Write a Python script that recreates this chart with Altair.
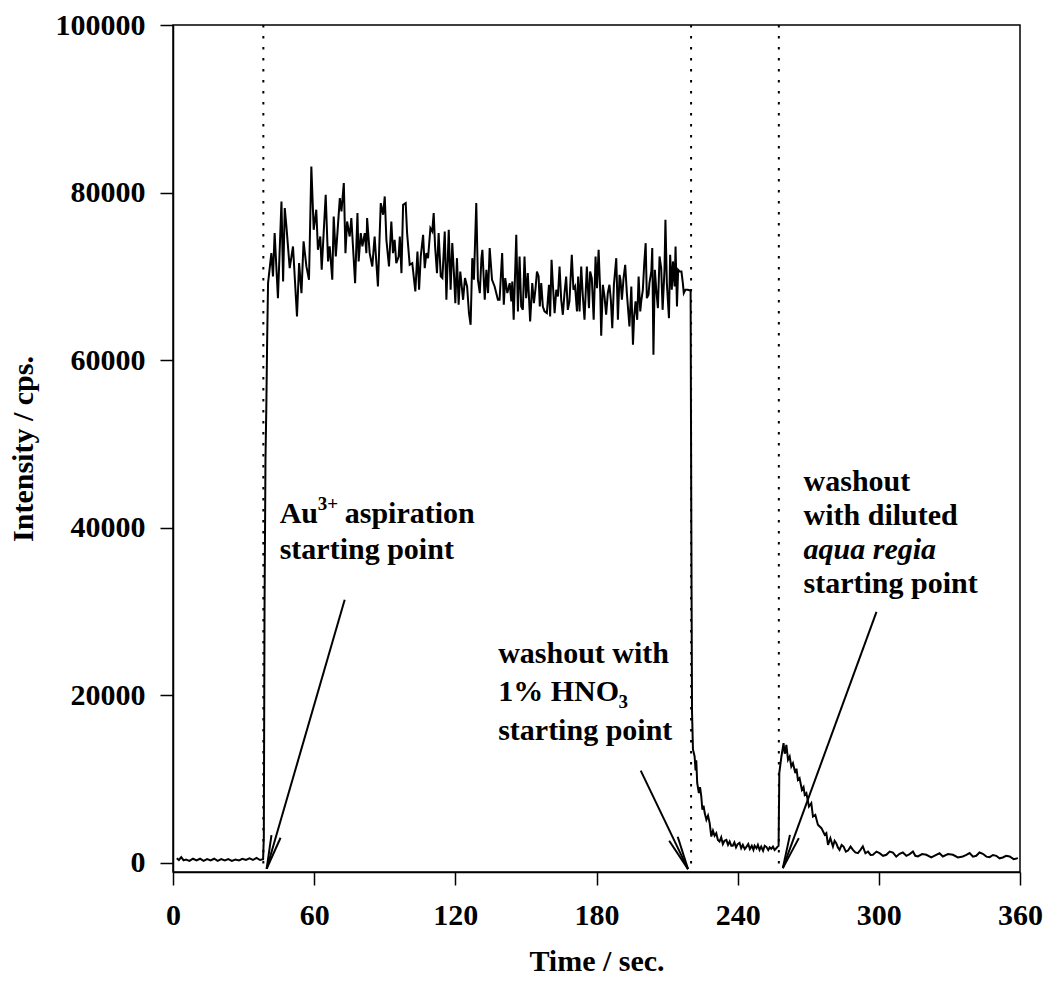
import math
import altair as alt
import pandas as pd

# ---- signal trace: time in seconds, intensity in counts per second ----
base_t = [1.6, 2.5, 3.5, 4.5, 5.5, 7.0, 8.5, 10.0, 11.5, 13.0, 14.5, 16.0, 17.5, 19.0,
          20.5, 22.0, 23.5, 25.0, 26.5, 28.0, 29.5, 31.0, 32.5, 34.0, 35.5, 37.0, 38.3]
base_v = [500, 300, 650, 250, 350, 200, 450, 250, 450, 200, 400, 250, 450, 200,
          400, 250, 400, 200, 350, 250, 450, 300, 500, 300, 550, 300, 400]

rise_t = [38.6, 38.9, 39.3, 39.7, 40.0]
rise_v = [3000, 30000, 48000, 55000, 62000]

plateau_t = [40.4, 41.8, 42.5, 43.2, 44.6, 46.1, 46.8, 47.5, 48.2, 49.6, 51.0, 52.7, 53.6, 54.6,
             55.5, 56.7, 57.8, 58.8, 59.8, 60.9, 61.6, 62.6, 63.2, 64.9, 65.9, 66.6, 67.7, 68.3,
             69.2, 70.9, 71.6, 72.6, 73.3, 74.0, 75.1, 75.8, 77.4, 78.4, 78.9, 79.8, 80.5, 81.5,
             82.2, 82.5, 83.6, 84.7, 85.7, 87.1, 88.3, 89.3, 90.0, 90.7, 91.8, 92.8, 93.5, 94.2,
             94.9, 95.9, 96.4, 97.1, 97.8, 98.9, 99.5, 100.6, 101.7, 103.0, 103.9, 104.6, 105.3,
             106.3, 107.0, 107.7, 108.4, 109.4, 110.2, 110.8, 111.4, 112.2, 112.9, 113.8, 114.5,
             115.5, 116.2, 117.2, 118.0, 118.7, 119.4, 120.0, 120.7, 121.4, 122.1, 123.3, 124.1,
             125.0, 125.8, 126.5, 127.2, 127.9, 128.9, 129.6, 130.4, 131.1, 131.5, 132.5, 133.2,
             133.9, 134.6, 135.6, 136.7, 138.1, 138.8,
             139.9, 140.6, 141.2, 142.1, 143.1, 143.8, 144.2, 144.8, 145.9, 146.6, 147.3, 148.0,
             148.7, 149.4, 150.1, 150.8, 151.8, 152.7, 153.4, 154.1, 154.7, 155.4, 155.9, 156.5,
             157.2, 157.9, 158.9, 159.8, 160.3, 160.9, 161.5, 162.2, 162.9, 163.6, 164.3, 165.0,
             165.7, 166.4, 167.1, 167.8, 168.5, 169.5, 170.2, 170.9, 171.7, 172.2, 172.8, 173.5,
             174.2, 174.9, 175.9, 176.8, 177.3, 178.0, 178.8, 179.6, 180.2, 180.9, 181.6, 182.0,
             182.7, 183.4, 184.1, 184.8, 185.5, 186.1, 186.7, 187.4, 188.4, 189.1, 189.8, 190.2,
             190.8, 191.5, 192.2, 192.9, 194.0, 194.8, 195.5, 196.0, 196.6, 197.3, 197.9, 198.6,
             199.0, 199.7, 200.3, 200.9, 201.4, 202.1, 202.5, 203.3, 203.7, 204.2, 204.8, 205.4,
             206.1, 206.8, 207.5, 208.1, 208.9, 209.3, 209.9, 210.8, 211.3, 212.0, 212.5, 213.2,
             213.6, 214.2, 214.7, 215.3, 216.1, 216.7, 217.1, 217.8, 218.8, 219.8, 220.0]
plateau_v = [69180, 72760, 69980, 75150, 67390, 78930, 69380, 78140, 75950, 70970, 73560, 65200,
             71570, 67990, 74160, 71170, 69580, 83110, 75550, 77940, 73160, 74750, 70770, 79730,
             71770, 73560, 69580, 77140, 72360, 79330, 77740, 81120, 72760, 76540, 74750, 76940,
             69180, 77540, 71770, 75150, 73560, 75150, 72760, 76940, 72760, 71170, 74750, 68780,
             78730, 77340, 79530, 74350, 71170, 76540, 72760, 74350, 71570, 72360, 74750, 70370,
             78530, 78730, 75150, 71370, 71570, 68190, 72960, 68380, 72360, 74950, 70970, 72760,
             72160, 75750, 75350, 77540, 73560, 70370, 75150, 69980, 69780, 75350, 67190, 75550,
             68380, 73960, 70370, 66790, 72160, 66590, 70570, 67190, 69780, 68780, 65600, 64200,
             72160, 69580, 78730, 69580, 67990, 72160, 73160, 67190, 70770, 67990, 73360, 69580,
             68780, 67190, 67190,
             72760, 66590, 69780, 67990, 69180, 66990, 69380, 64800, 74950, 65800, 72360, 66390,
             65990, 72360, 67390, 70370, 64600, 69180, 66790, 68580, 70570, 69970, 66390, 69180,
             66390, 65800, 65600, 68980, 65200, 71960, 68780, 65600, 68380, 67590, 71170, 67190,
             65400, 67990, 69970, 65990, 66990, 72560, 68380, 68780, 65800, 69970, 65800, 71170,
             67590, 64800, 71170, 66190, 70570, 69780, 64800, 72360, 68580, 73160, 67990, 62890,
             68980, 67590, 65400, 67990, 68980, 67190, 63810, 68980, 72160, 64800, 70170, 69580,
             67190, 69780, 71370, 67990, 64000, 68780, 61820, 65200, 66990, 64800, 69970, 65800,
             66990, 68380, 71570, 73950, 67390, 67790, 69180, 70570, 73360, 60620, 70770, 68380,
             66190, 72360, 70970, 65990, 70770, 76740, 69180, 65000, 72560, 68380, 71770, 68780,
             73560, 66390, 70770, 70570, 70570, 69180, 67990, 68380, 68380, 68300, 68300]

tail_t = [220.3, 220.6, 221.0, 221.7, 222.1, 222.4, 222.8, 223.5, 224.0, 224.5, 225.0, 225.5,
          226.0, 226.7, 227.4, 228.1, 228.8, 229.5, 230.2, 230.9, 231.6, 232.3, 233.0, 233.7,
          234.4, 235.2, 235.9, 236.6, 237.3, 237.9, 238.6, 239.3, 240.0, 240.8, 241.5, 242.2,
          243.0, 243.7, 244.5, 245.2, 246.0, 246.7, 247.2, 248.0, 248.6, 249.3, 250.0, 250.8,
          251.5, 252.2, 253.0, 253.6, 254.3, 255.0, 255.7, 256.4, 257.0, 257.4,
          257.7, 258.6, 259.5, 260.0, 260.3, 260.7, 261.4, 262.1, 262.8, 263.5, 264.5, 265.0,
          265.6, 266.3, 267.3, 268.0, 268.5, 269.2, 270.3, 271.3, 272.0, 273.0, 274.1, 275.6,
          277.0, 277.7, 278.4, 279.4, 280.5, 281.2, 281.9, 282.6, 283.3, 284.2, 285.0, 286.0,
          286.9, 288.0, 289.0, 290.0, 291.1, 292.2, 293.2, 294.3, 295.4, 296.5, 297.5, 299.0,
          300.3, 301.8, 303.2, 304.6, 306.0, 307.4, 308.8, 310.2, 311.7, 313.1, 314.5, 315.5,
          316.6, 318.4, 320.2, 322.3, 324.4, 325.8, 327.2, 329.4, 331.5, 333.6, 335.7, 337.2,
          338.6, 340.0, 341.4, 342.8, 344.2, 345.7, 347.1, 348.5, 349.9, 351.3, 352.7, 354.1,
          355.6, 357.3, 359.1]
tail_v = [40000, 18000, 13500, 12660, 11000, 12200, 9500, 8300, 9000, 8000, 6300, 6800,
          5900, 5100, 5600, 4700, 3100, 3800, 3200, 3500, 2700, 2500, 3000, 2200,
          2600, 2700, 2100, 2500, 2000, 2000, 2400, 1800, 2200, 2350, 1700, 2100,
          1600, 1870, 2200, 1600, 2000, 1500, 2000, 1700, 2100, 1500, 1900, 1400,
          2000, 1870, 1500, 1800, 1630, 1900, 1500, 1700, 1900, 2000,
          10700, 12660, 14260, 13000, 13260, 14050, 12260, 12660, 11460, 11860, 10670, 11200,
          9870, 10070, 8680, 9000, 8080, 8280, 6680, 7080, 5490, 5690, 4500, 4100,
          3310, 3510, 2110, 2910, 1910, 2600, 2310, 1800, 1510, 2100, 1910, 1300,
          1430, 1900, 1510, 1200, 1120, 1500, 1910, 1100, 1310, 900, 920, 1300,
          1120, 800, 920, 1300, 1190, 700, 1040, 1200, 800, 1000, 1310, 800,
          720, 1000, 920, 600, 920, 1100, 720, 1000, 920, 600, 720, 900,
          1120, 700, 800, 1200, 1040, 700, 640, 900, 800, 500, 600, 800,
          720, 400, 520]

# ---- event markers (start of each aspiration step) ----
event_t = [38.4, 220.2, 257.5]

# ---- annotation arrows: tail (t, cps) -> tip (t, cps) ----
arrow_tail_t = [72.97, 198.8, 299.0]
arrow_tail_v = [31370, 10970, 29930]
arrow_tip_t = [39.8, 218.9, 259.2]
arrow_tip_v = [-750, -790, -670]

# ---- axes ----
T_MIN, T_MAX = 0, 360
V_MIN, V_MAX = -1134, 100000
x_ticks = [0, 60, 120, 180, 240, 300, 360]
y_ticks = [0, 20000, 40000, 60000, 80000, 100000]

W, H = 847, 847
FONT = "Liberation Serif"
FS = 30

trace = pd.DataFrame({
    "t": base_t + rise_t + plateau_t + tail_t,
    "v": base_v + rise_v + plateau_v + tail_v,
})
trace["i"] = range(len(trace))

xs = alt.Scale(domain=[T_MIN, T_MAX], nice=False, zero=False)
ys = alt.Scale(domain=[V_MIN, V_MAX], nice=False, zero=False)

line = alt.Chart(trace).mark_line(color="black", strokeWidth=2).encode(
    x=alt.X("t:Q", scale=xs, axis=alt.Axis(
        values=x_ticks, format="d", title="Time / sec.", titleY=74, titleBaseline="top")),
    y=alt.Y("v:Q", scale=ys, axis=alt.Axis(
        values=y_ticks, format="d", title="Intensity / cps.", titleX=-135, titleY=H / 2)),
    order="i:Q",
)

events = alt.Chart(pd.DataFrame({"t": event_t})).mark_rule(
    color="black", strokeWidth=2, strokeDash=[2.5, 8.5]
).encode(x=alt.X("t:Q", scale=xs), y=alt.value(0), y2=alt.value(H))

# arrow shafts and open heads
px_t = W / (T_MAX - T_MIN)
px_v = H / (V_MAX - V_MIN)
seg = []
for t0, v0, t1, v1 in zip(arrow_tail_t, arrow_tail_v, arrow_tip_t, arrow_tip_v):
    seg.append({"t": t0, "v": v0, "t2": t1, "v2": v1})
    dx = (t0 - t1) * px_t
    dy = -(v0 - v1) * px_v
    ang = math.atan2(dy, dx)
    for s in (1, -1):
        a = ang + s * math.radians(8)
        seg.append({"t": t1 + 34 * math.cos(a) / px_t,
                    "v": v1 - 34 * math.sin(a) / px_v,
                    "t2": t1, "v2": v1})
arrows = alt.Chart(pd.DataFrame(seg)).mark_rule(color="black", strokeWidth=2).encode(
    x=alt.X("t:Q", scale=xs), y=alt.Y("v:Q", scale=ys), x2="t2:Q", y2="v2:Q")

# text labels, positioned in data units
lab_text = ["Au", "aspiration", "starting point",
            "washout with", "1% HNO", "starting point",
            "washout", "with diluted", "starting point"]
lab_t = [45.35, 73.0, 45.35, 138.2, 138.2, 138.2, 268.0, 268.0, 268.0]
lab_v = [40560, 40560, 36260, 23840, 19300, 14640, 44390, 40330, 32200]

ital_text = ["aqua regia"]
ital_t = [268.0]
ital_v = [36260]

small_text = ["3+", "3"]
small_t = [61.5, 189.4]
small_v = [42050, 18470]


def labels(txt, tt, vv, size, style="normal"):
    df = pd.DataFrame({"txt": txt, "t": tt, "v": vv})
    return alt.Chart(df).mark_text(
        align="left", baseline="alphabetic", font=FONT, fontWeight="bold",
        fontStyle=style, fontSize=size, color="black"
    ).encode(x=alt.X("t:Q", scale=xs), y=alt.Y("v:Q", scale=ys), text="txt:N")


chart = alt.layer(
    events, line, arrows,
    labels(lab_text, lab_t, lab_v, FS),
    labels(ital_text, ital_t, ital_v, FS, "italic"),
    labels(small_text, small_t, small_v, 19),
).properties(
    width=W, height=H,
    autosize=alt.AutoSizeParams(type="none"),
    padding={"left": 173, "top": 25, "right": 26, "bottom": 111},
    background="white",
).configure_view(
    stroke="black", strokeWidth=1.5
).configure_axis(
    grid=False, domainColor="black", domainWidth=1.5, tickColor="black", tickWidth=1.5,
    tickSize=13, labelFont=FONT, labelFontSize=FS, labelFontWeight="bold", labelColor="black",
    labelPadding=15, titleFont=FONT, titleFontSize=FS, titleFontWeight="bold",
    titleColor="black", labelFlush=False, labelOverlap=False,
)

chart.save("out.html", embed_options={"renderer": "svg", "actions": False})
